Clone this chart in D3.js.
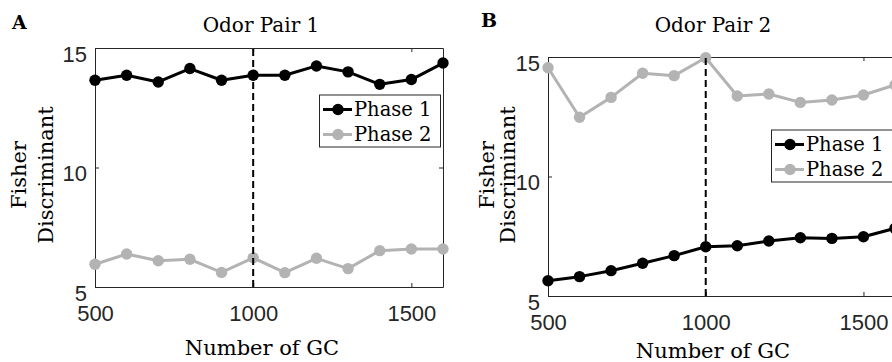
<!DOCTYPE html>
<html>
<head>
<meta charset="utf-8">
<script src="https://cdn.jsdelivr.net/npm/d3@7/dist/d3.min.js"></script>
<style>
  html, body { margin: 0; padding: 0; background: #fff; }
  svg { display: block; }
</style>
</head>
<body>
<svg id="chart" width="892" height="362"></svg>
<script>
// Number of granule cells simulated
const gcCounts = [500, 600, 700, 800, 900, 1000, 1100, 1200, 1300, 1400, 1500, 1600];

// Fisher discriminant, odor pair 1
const pair1Phase1 = [13.65, 13.86, 13.58, 14.14, 13.65, 13.86, 13.86, 14.25, 14.00, 13.48, 13.68, 14.37];
const pair1Phase2 = [5.95, 6.38, 6.10, 6.16, 5.61, 6.22, 5.60, 6.20, 5.77, 6.52, 6.59, 6.59];

// Fisher discriminant, odor pair 2
const pair2Phase1 = [5.64, 5.81, 6.06, 6.37, 6.69, 7.06, 7.10, 7.30, 7.44, 7.41, 7.48, 7.83];
const pair2Phase2 = [14.55, 12.48, 13.31, 14.32, 14.22, 14.97, 13.37, 13.45, 13.10, 13.20, 13.41, 13.83];

const seriesNames = ["Phase 1", "Phase 2"];
const panelTitles = ["Odor Pair 1", "Odor Pair 2"];
const panelLetters = ["A", "B"];
const xTicks = [500, 1000, 1500];
const yTicks = [5, 10, 15];
const xDomain = [500, 1600];
const yDomain = [5, 15];
const markerGC = 1000;
const xLabel = "Number of GC";
const yLabelLines = ["Fisher", "Discriminant"];

const colors = ["#000000", "#b3b3b3"];
const axisColor = "#262626";
const serif = "'DejaVu Serif', serif";
const sans = "'Liberation Sans', Arial, sans-serif";

const panels = [
  {
    series: [pair1Phase1, pair1Phase2],
    box: { left: 95, right: 443, top: 48, bottom: 287 },
    letter: { x: 12, y: 29 },
    title: { x: 261, y: 32 },
    xlab: { x: 262, y: 355 },
    ylab: { y: 175, x: [26, 53] },
    legendTop: 94.5
  },
  {
    series: [pair2Phase1, pair2Phase2],
    box: { left: 548, right: 895, top: 57, bottom: 296 },
    letter: { x: 481, y: 27 },
    title: { x: 713, y: 32 },
    xlab: { x: 713, y: 358 },
    ylab: { y: 175, x: [494, 515] },
    legendTop: 129.5
  }
];

const svg = d3.select("#chart");

panels.forEach((p, pi) => {
  const b = p.box;
  const x = d3.scaleLinear().domain(xDomain).range([b.left, b.right]);
  const y = d3.scaleLinear().domain(yDomain).range([b.bottom, b.top]);
  const g = svg.append("g");

  // axes with inward ticks on all four sides
  const styleAxis = sel => {
    sel.selectAll("path.domain").attr("stroke", axisColor).attr("stroke-width", 1);
    sel.selectAll(".tick line").attr("stroke", axisColor).attr("stroke-width", 1);
    sel.selectAll("text").attr("fill", axisColor).style("font-family", sans).style("font-size", "22px");
  };

  g.append("g")
    .attr("transform", `translate(0,${b.bottom})`)
    .call(d3.axisBottom(x).tickValues(xTicks).tickSizeInner(-4).tickSizeOuter(0).tickPadding(18).tickFormat(d3.format("d")))
    .call(styleAxis);

  g.append("g")
    .attr("transform", `translate(0,${b.top})`)
    .call(d3.axisTop(x).tickValues(xTicks).tickSizeInner(-4).tickSizeOuter(0).tickFormat(""))
    .call(styleAxis);

  const yl = g.append("g")
    .attr("transform", `translate(${b.left},0)`)
    .call(d3.axisLeft(y).tickValues(yTicks).tickSizeInner(-4).tickSizeOuter(0).tickPadding(8).tickFormat(d3.format("d")))
    .call(styleAxis);
  yl.selectAll("text").attr("dy", "0.6em");

  g.append("g")
    .attr("transform", `translate(${b.right},0)`)
    .call(d3.axisRight(y).tickValues(yTicks).tickSizeInner(-4).tickSizeOuter(0).tickFormat(""))
    .call(styleAxis);

  // data lines and markers
  const line = d3.line().x((d, i) => x(gcCounts[i])).y(d => y(d));
  p.series.forEach((vals, si) => {
    g.append("path")
      .datum(vals)
      .attr("d", line)
      .attr("fill", "none")
      .attr("stroke", colors[si])
      .attr("stroke-width", 3)
      .attr("stroke-linejoin", "round");
    g.append("g").selectAll("circle")
      .data(vals)
      .join("circle")
      .attr("cx", (d, i) => x(gcCounts[i]))
      .attr("cy", d => y(d))
      .attr("r", 5.7)
      .attr("fill", colors[si]);
  });

  // reference line at 1000 cells
  g.append("line")
    .attr("x1", x(markerGC)).attr("x2", x(markerGC))
    .attr("y1", y(yDomain[0])).attr("y2", y(yDomain[1]))
    .attr("stroke", "#000")
    .attr("stroke-width", 2)
    .attr("stroke-dasharray", "7,4");

  // legend
  const lw = 121, lh = 52;
  const lx = b.right - lw - 3;
  const ly = p.legendTop;
  const lg = g.append("g");
  lg.append("rect")
    .attr("x", lx + 0.5).attr("y", ly + 0.5)
    .attr("width", lw).attr("height", lh)
    .attr("fill", "#fff")
    .attr("stroke", axisColor)
    .attr("stroke-width", 1);
  seriesNames.forEach((name, si) => {
    const cy = ly + 15 + si * 25;
    lg.append("line")
      .attr("x1", lx + 4).attr("x2", lx + 33)
      .attr("y1", cy).attr("y2", cy)
      .attr("stroke", colors[si]).attr("stroke-width", 3);
    lg.append("circle")
      .attr("cx", lx + 19).attr("cy", cy).attr("r", 5.7)
      .attr("fill", colors[si]);
    lg.append("text")
      .attr("x", lx + 35).attr("y", cy + 6)
      .style("font-family", serif).style("font-size", "19.5px")
      .attr("fill", "#000")
      .text(name);
  });

  // panel letter and title
  svg.append("text")
    .attr("x", p.letter.x).attr("y", p.letter.y)
    .style("font-family", serif).style("font-size", "19px").style("font-weight", "bold")
    .text(panelLetters[pi]);
  svg.append("text")
    .attr("x", p.title.x).attr("y", p.title.y)
    .attr("text-anchor", "middle")
    .style("font-family", serif).style("font-size", "20px")
    .text(panelTitles[pi]);

  // axis labels
  svg.append("text")
    .attr("x", p.xlab.x).attr("y", p.xlab.y)
    .attr("text-anchor", "middle")
    .style("font-family", serif).style("font-size", "21px")
    .text(xLabel);
  yLabelLines.forEach((txt, li) => {
    svg.append("text")
      .attr("transform", `translate(${p.ylab.x[li]},${p.ylab.y}) rotate(-90)`)
      .attr("text-anchor", "middle")
      .style("font-family", serif).style("font-size", "21px")
      .text(txt);
  });
});
</script>
</body>
</html>
